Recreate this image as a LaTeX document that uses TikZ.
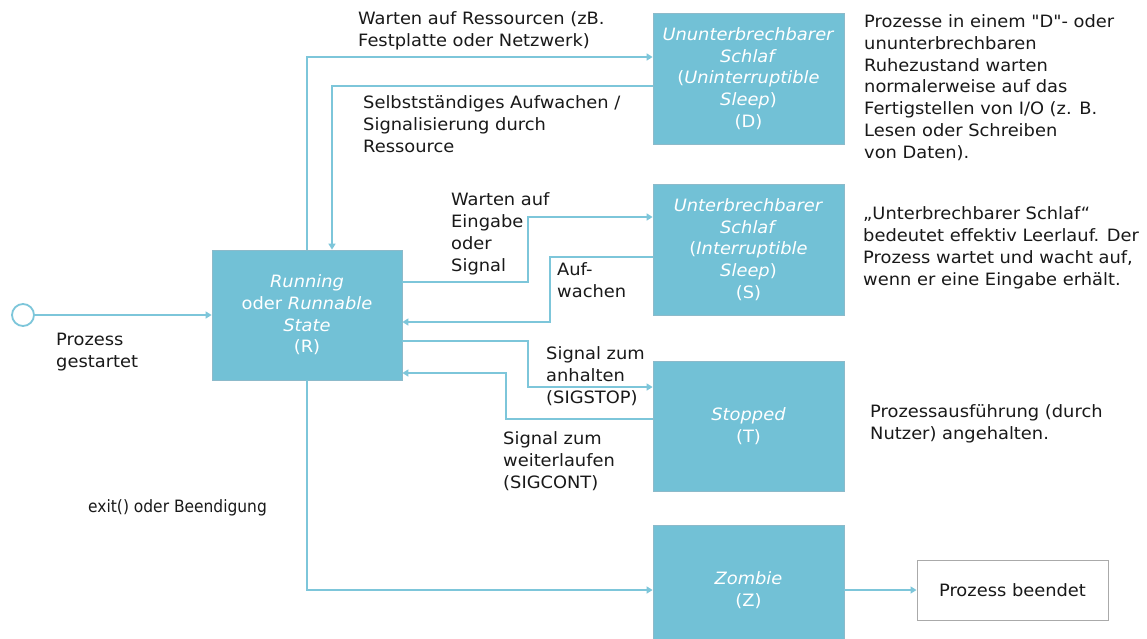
\documentclass[tikz,border=0pt]{standalone}
\usepackage{fontspec}
\setmainfont{DejaVu Sans}[FakeStretch=1.05, Ligatures=TeXOff]
\newfontfamily\narrowfont{DejaVu Sans}[FakeStretch=0.91]
\usetikzlibrary{arrows.meta}
\definecolor{statefill}{RGB}{114,193,214}
\definecolor{stateedge}{RGB}{140,186,202}
\definecolor{flowline}{RGB}{125,198,218}
\definecolor{ink}{RGB}{25,25,25}
\definecolor{endedge}{RGB}{170,170,170}
\tikzset{
  state/.style={rectangle, fill=statefill, draw=stateedge, line width=0.8pt,
    minimum width=191pt, minimum height=131pt, inner sep=0pt,
    text=white, align=center, font=\fontsize{17}{21.7}\selectfont},
  flow/.style={draw=flowline, line width=1.8pt,
    -{Triangle[length=6pt,width=7pt]}},
  % labels are anchored at the baseline of their last line
  label/.style={anchor=base west, inner sep=0pt, text=ink, align=left,
    font=\fontsize{17}{21.7}\selectfont},
}
\begin{document}
\begin{tikzpicture}[x=1pt, y=-1pt]
  \clip (0,0) rectangle (1147,638);
  \fill[white] (0,0) rectangle (1147,638);

  % start marker
  \node[circle, draw=flowline, line width=1.8pt, fill=white,
        minimum size=22pt, inner sep=0pt] (start) at (23,315) {};

  % states
  \node[state, minimum width=190pt, minimum height=130pt] (R) at (307,315)
    {\textit{Running}\\oder \textit{Runnable}\\\textit{State}\\(R)};
  \node[state] (D) at (748.5,78.5)
    {\textit{Ununterbrechbarer}\\\textit{Schlaf}\\(\textit{Uninterruptible}\\\textit{Sleep})\\(D)};
  \node[state] (S) at (748.5,249.5)
    {\textit{Unterbrechbarer}\\\textit{Schlaf}\\(\textit{Interruptible}\\\textit{Sleep})\\(S)};
  \node[state, minimum height=130pt] (T) at (748.5,426)
    {\textit{Stopped}\\(T)};
  \node[state, minimum height=130pt] (Z) at (748.5,590)
    {\textit{Zombie}\\(Z)};
  \node[rectangle, draw=endedge, line width=1pt, fill=white,
        minimum width=191pt, minimum height=60pt, inner sep=0pt,
        text=ink, font=\fontsize{17}{21.7}\selectfont] (E) at (1012.5,590)
    {Prozess beendet};

  % transitions
  \draw[flow] (start.east) -- (R.west |- start.east);
  \draw[flow] (R.north) |- (D.west |- 0,57);
  \draw[flow] (D.west |- 0,86) -| (R.north -| 332,0);
  \draw[flow] (R.east |- 0,282) -| (528,217) -- (S.west |- 0,217);
  \draw[flow] (S.west |- 0,257) -| (550,322) -- (R.east |- 0,322);
  \draw[flow] (R.east |- 0,341) -| (528,387) -- (T.west |- 0,387);
  \draw[flow] (T.west |- 0,419) -| (506,373) -- (R.east |- 0,373);
  \draw[flow] (R.south) |- (Z.west);
  \draw[flow] (Z.east) -- (E.west);

  % transition labels
  \node[label] (l1) at (358,46) {Warten auf Ressourcen (zB.\\Festplatte oder Netzwerk)};
  \node[label] (l2) at (363,152) {Selbstständiges Aufwachen /\\Signalisierung durch\\Ressource};
  \node[label] (l3) at (451,271) {Warten auf\\Eingabe\\oder\\Signal};
  \node[label] (l4) at (557,297) {Auf-\\wachen};
  \node[label] (l5) at (546,403) {Signal zum\\anhalten\\(SIGSTOP)};
  \node[label] (l6) at (503,488) {Signal zum\\weiterlaufen\\(SIGCONT)};
  \node[label, font=\narrowfont\fontsize{17}{21.7}\selectfont] (l7) at (88,512) {exit() oder Beendigung};
  \node[label] (l8) at (56,367) {Prozess\\gestartet};

  % state descriptions
  \node[label] (dD) at (864,158) {Prozesse in einem "D"- oder\\ununterbrechbaren\\Ruhezustand warten\\normalerweise auf das\\Fertigstellen von I/O (z. B.\\Lesen oder Schreiben\\von Daten).};
  \node[label] (dS) at (863,285) {„Unterbrechbarer Schlaf“\\bedeutet effektiv Leerlauf. Der\\Prozess wartet und wacht auf,\\wenn er eine Eingabe erhält.};
  \node[label] (dT) at (870,439) {Prozessausführung (durch\\Nutzer) angehalten.};
\end{tikzpicture}
\end{document}
